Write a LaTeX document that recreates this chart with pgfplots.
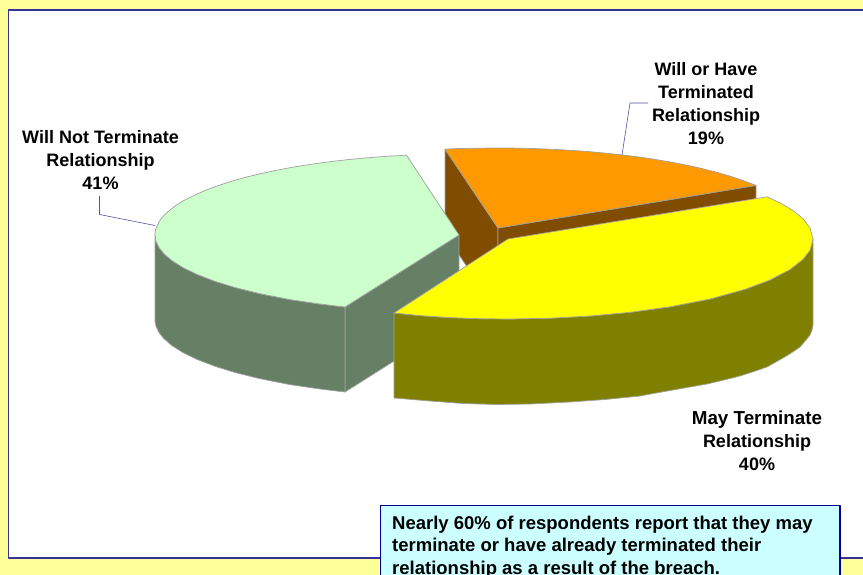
\documentclass[border=0pt]{standalone}
\usepackage{pgfplots}
\pgfplotsset{compat=1.18}
\usepackage{fontspec}
\setmainfont{Liberation Sans}
\definecolor{pagebg}{HTML}{FFFF99}
\definecolor{frameblue}{HTML}{333399}
\definecolor{boxblue}{HTML}{000099}
\definecolor{boxfill}{HTML}{CCFFFF}
\definecolor{edgegray}{HTML}{A0A0A0}
\definecolor{mintTop}{HTML}{CCFFCC}
\definecolor{mintSide}{HTML}{668066}
\definecolor{orangeTop}{HTML}{FF9900}
\definecolor{orangeSide}{HTML}{804C00}
\definecolor{yellowTop}{HTML}{FFFF00}
\definecolor{yellowSide}{HTML}{808000}
\tikzset{
  pie/.style={draw=edgegray, line width=0.7pt},
  lead/.style={draw=frameblue!85, line width=0.6pt},
  lbl/.style={font=\fontsize{18}{23}\selectfont\bfseries, align=center, inner sep=0pt, text=black},
}
\begin{document}
\begin{tikzpicture}
\useasboundingbox (0,0) rectangle (863pt,575pt);
\begin{axis}[
  at={(0,0)}, anchor=south west,
  scale only axis, width=863pt, height=575pt,
  xmin=0, xmax=863, ymin=0, ymax=575, y dir=reverse,
  hide axis, clip=true,
  every axis plot/.append style={line join=round, no markers},
]
% page and chart area
\addplot[fill=pagebg, draw=none] coordinates {(0,0) (863,0) (863,575) (0,575)} -- cycle;
\addplot[fill=white, draw=frameblue, line width=1.3pt] coordinates {(8.5,10) (880,10) (880,558) (8.5,558)} -- cycle;

% orange slice: inner faces, then the top
\addplot[pie, fill=orangeSide] coordinates {(445,149) (498,228) (498,313) (445,234)} -- cycle;
\addplot[pie, fill=orangeSide] coordinates {(498,228) (756,185.4) (756,271) (498,313)} -- cycle;
\addplot[pie, fill=orangeTop] coordinates {(445,149.2) (457,148.6) (470,148.3) (485,148.1) (500,148) (515,148.1) (530,148.4) (545,149) (560,149.7) (575,150.6) (590,151.7) (606,153.2) (622,154.9) (636,156.6) (650,158.6) (665,161.1) (680,163.8) (693,166.5) (705,169.3) (718,172.6) (730,176.1) (743,180.5) (756,185.4) (498,228)} -- cycle;

% mint slice: faces, then the top
\addplot[pie, fill=mintSide] coordinates {(345,307) (459,235) (459,320) (345,392)} -- cycle;
\addplot[pie, fill=mintSide] coordinates {(155,234) (156,241.3) (159,247.5) (164,253.8) (172,260.6) (183,267.6) (197,274.4) (215,281.3) (235,287.5) (260,293.7) (290,299.6) (320,304) (345,307) (345,392) (320,389) (290,384.6) (260,378.7) (235,372.5) (215,366.3) (197,359.4) (183,352.6) (172,345.6) (164,338.8) (159,332.5) (156,326.3) (155,321)} -- cycle;
\addplot[pie, fill=mintTop] coordinates {(406.5,155.2) (393,155.9) (380,156.8) (365,158) (350,159.4) (335,161.1) (320,163) (305,165.2) (290,167.7) (275,170.6) (260,173.8) (247,176.9) (235,180.2) (225,183.3) (215,186.7) (206,190.2) (197,194) (190,197.4) (183,201) (177,204.7) (172,208.3) (168,211.7) (164,215.4) (161,218.8) (159,222) (157,226) (155.5,230) (155,234) (156,241.3) (159,247.5) (164,253.8) (172,260.6) (183,267.6) (197,274.4) (215,281.3) (235,287.5) (260,293.7) (290,299.6) (320,304) (345,307) (459,235)} -- cycle;

% yellow slice: rim, then the top
\addplot[pie, fill=yellowSide] coordinates {(394,313) (420,315.6) (450,317.6) (480,318.7) (510,319) (550,318.2) (590,316) (630,312.3) (670,306.8) (710,299) (745,289.3) (770,280) (790,269.5) (803,259.3) (810,250.2) (813,239) (813,325) (812,330) (810,335) (806,340) (800,347) (792,352.5) (783,358) (775,362.5) (767,367) (754,371.5) (740,376) (724,380) (707,384) (690,387) (673,390) (656,393) (640,396) (605,399.5) (570,402) (530,404) (497,404.5) (463,403.5) (430,401) (394,398)} -- cycle;
\addplot[pie, fill=yellowTop] coordinates {(767,196.8) (780,202.8) (793,210.5) (803,218.7) (810,227.8) (813,239) (810,250.2) (803,259.3) (790,269.5) (770,280) (745,289.3) (710,299) (670,306.8) (630,312.3) (590,316) (550,318.2) (510,319) (480,318.7) (450,317.6) (420,315.6) (394,313) (508,239)} -- cycle;

% leader lines
\addplot[lead] coordinates {(99.5,196) (99.5,214.5) (155,225.5)};
\addplot[lead] coordinates {(622,155) (630,103) (648,103)};

% callout box
\addplot[fill=boxfill, draw=boxblue, line width=1.6pt] coordinates {(380.5,505.5) (840,505.5) (840,590) (380.5,590)} -- cycle;

% slice labels
\node[lbl] at (axis cs:100.5,160) {Will Not Terminate\\Relationship\\41\%};
\node[lbl] at (axis cs:706,104) {Will or Have\\Terminated\\Relationship\\19\%};
\node[lbl] at (axis cs:757,441) {{\fontsize{18.8}{23}\selectfont May Terminate}\\Relationship\\40\%};

% callout text
\node[lbl, align=left, anchor=north west, font=\fontsize{18.5}{22.5}\selectfont\bfseries] at (axis cs:392,515.5)
  {Nearly 60\% of respondents report that they may\\terminate or have already terminated their\\relationship as a result of the breach.};
\end{axis}
\end{tikzpicture}
\end{document}
